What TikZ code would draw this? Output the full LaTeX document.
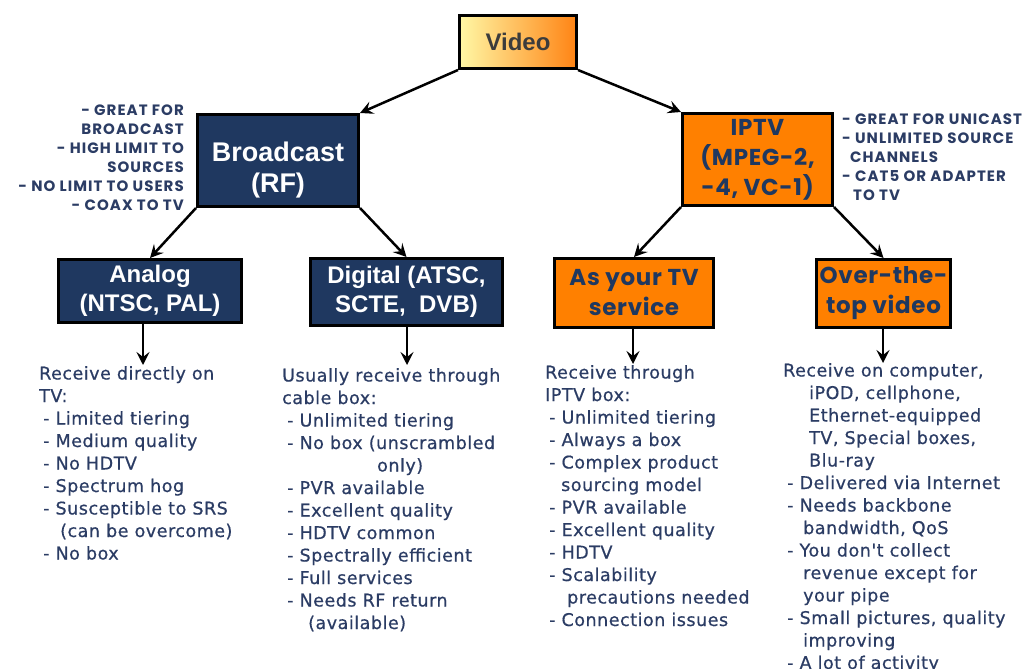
\documentclass[tikz,border=0pt]{standalone}
\usepackage{fontspec}
\setmainfont{Liberation Sans}
\newfontfamily\listfont{DejaVu Sans}[LetterSpace=3, FakeBold=0.6]
\newfontfamily\boxfont{Poppins}[LetterSpace=3]
\newfontfamily\notefont{Poppins}[LetterSpace=7]
\usetikzlibrary{arrows.meta}

\definecolor{navy}{RGB}{31,56,96}
\definecolor{ink}{RGB}{43,60,100}
\definecolor{orng}{RGB}{255,128,0}
\definecolor{paleyel}{RGB}{255,247,165}
\definecolor{deeporng}{RGB}{255,132,20}
\definecolor{graytext}{RGB}{60,60,60}

\newcommand{\twolines}[2]{\begin{tabular}{@{}c@{}}#1\\#2\end{tabular}}

\tikzset{
  box/.style={draw=black, line width=3pt, inner sep=0pt, align=center},
  navybox/.style={box, fill=navy, text=white,
    font=\bfseries\fontsize{24}{29}\selectfont},
  orangebox/.style={box, fill=orng, text=navy,
    font=\boxfont\bfseries\fontsize{23}{30}\selectfont},
  listtext/.style={anchor=north west, inner sep=0pt, align=left, text=ink,
    font=\listfont\fontsize{17.5}{22.5}\selectfont},
  notetext/.style={inner sep=0pt, text=ink,
    font=\notefont\bfseries\fontsize{15}{19}\selectfont},
  link/.style={line width=2.5pt, -{Stealth[length=13pt,width=13pt,inset=5pt]}}
}

\begin{document}
\begin{tikzpicture}[x=1pt,y=-1pt]
  \useasboundingbox (0,0) rectangle (1031,669);
  \fill[white] (0,0) rectangle (1031,669);

  % root
  \node[box, left color=paleyel, right color=deeporng, text=graytext,
        font=\bfseries\fontsize{24}{28}\selectfont,
        minimum width=117pt, minimum height=53pt] (video) at (518,42) {Video};

  % second level
  \node[navybox, font=\bfseries\fontsize{27}{31}\selectfont,
        minimum width=161pt, minimum height=92pt] (broadcast) at (278,160.5)
        {\raisebox{-17pt}[0pt][0pt]{\twolines{Broadcast}{(RF)}}};
  \node[orangebox, minimum width=150pt, minimum height=92pt] (iptv) at (757.5,159.5)
        {IPTV\\(MPEG-2,\\-4, VC-1)};

  % third level
  \node[navybox, minimum width=183pt, minimum height=63pt] (analog) at (150,291)
        {Analog\\(NTSC, PAL)};
  \node[navybox, minimum width=192pt, minimum height=67pt] (digital) at (406.5,292)
        {Digital (ATSC,\\SCTE,\ \ DVB)};
  \node[orangebox, minimum width=159pt, minimum height=69pt] (astv) at (634,293)
        {As your TV\\service};
  \node[orangebox, minimum width=134pt, minimum height=68pt] (ott) at (883.5,293.5)
        {Over-the-\\top video};

  % side notes
  \node[notetext, anchor=north east, align=right] (bcnotes) at (184,105)
        {- GREAT FOR\\BROADCAST\\- HIGH LIMIT TO\\SOURCES\\- NO LIMIT TO USERS\\- COAX TO TV};
  \node[notetext, anchor=north west, align=left] (ipnotes) at (842,114)
        {- GREAT FOR UNICAST\\- UNLIMITED SOURCE\\\hspace*{8pt}CHANNELS\\- CAT5 OR ADAPTER\\\hspace*{11pt}TO TV};

  % detail lists
  \node[listtext] (antext) at (39,366)
        {Receive directly on\\TV:\\
         \hspace*{4pt}- Limited tiering\\
         \hspace*{4pt}- Medium quality\\
         \hspace*{4pt}- No HDTV\\
         \hspace*{4pt}- Spectrum hog\\
         \hspace*{4pt}- Susceptible to SRS\\
         \hspace*{21pt}(can be overcome)\\
         \hspace*{4pt}- No box};
  \node[listtext] (ditext) at (282,368)
        {Usually receive through\\cable box:\\
         \hspace*{5pt}- Unlimited tiering\\
         \hspace*{5pt}- No box (unscrambled\\
         \hspace*{95pt}only)\\
         \hspace*{5pt}- PVR available\\
         \hspace*{5pt}- Excellent quality\\
         \hspace*{5pt}- HDTV common\\
         \hspace*{5pt}- Spectrally efficient\\
         \hspace*{5pt}- Full services\\
         \hspace*{5pt}- Needs RF return\\
         \hspace*{26pt}(available)};
  \node[listtext] (tvtext) at (545,365)
        {Receive through\\IPTV box:\\
         \hspace*{4pt}- Unlimited tiering\\
         \hspace*{4pt}- Always a box\\
         \hspace*{4pt}- Complex product\\
         \hspace*{16pt}sourcing model\\
         \hspace*{4pt}- PVR available\\
         \hspace*{4pt}- Excellent quality\\
         \hspace*{4pt}- HDTV\\
         \hspace*{4pt}- Scalability\\
         \hspace*{22pt}precautions needed\\
         \hspace*{4pt}- Connection issues};
  \node[listtext] (otttext) at (783,363)
        {Receive on computer,\\
         \hspace*{26pt}iPOD, cellphone,\\
         \hspace*{26pt}Ethernet-equipped\\
         \hspace*{26pt}TV, Special boxes,\\
         \hspace*{26pt}Blu-ray\\
         \hspace*{4pt}- Delivered via Internet\\
         \hspace*{4pt}- Needs backbone\\
         \hspace*{20pt}bandwidth, QoS\\
         \hspace*{4pt}- You don't collect\\
         \hspace*{20pt}revenue except for\\
         \hspace*{20pt}your pipe\\
         \hspace*{4pt}- Small pictures, quality\\
         \hspace*{20pt}improving\\
         \hspace*{4pt}- A lot of activity};

  % tree connectors
  \draw[link] (video.south west) -- (broadcast.north east);
  \draw[link] (video.south east) -- (iptv.north west);
  \draw[link] (broadcast.south west) -- (analog.north);
  \draw[link] (broadcast.south east) -- (digital.north);
  \draw[link] (iptv.south west) -- (astv.north);
  \draw[link] (iptv.south east) -- (ott.north);

  % arrows down to the detail lists
  \coordinate (antip) at (143,365);
  \coordinate (ditip) at (407,365);
  \coordinate (tvtip) at (633,364);
  \coordinate (otttip) at (883,363);
  \draw[link] (antip |- analog.south) -- (antip);
  \draw[link] (ditip |- digital.south) -- (ditip);
  \draw[link] (tvtip |- astv.south) -- (tvtip);
  \draw[link] (otttip |- ott.south) -- (otttip);
\end{tikzpicture}
\end{document}
